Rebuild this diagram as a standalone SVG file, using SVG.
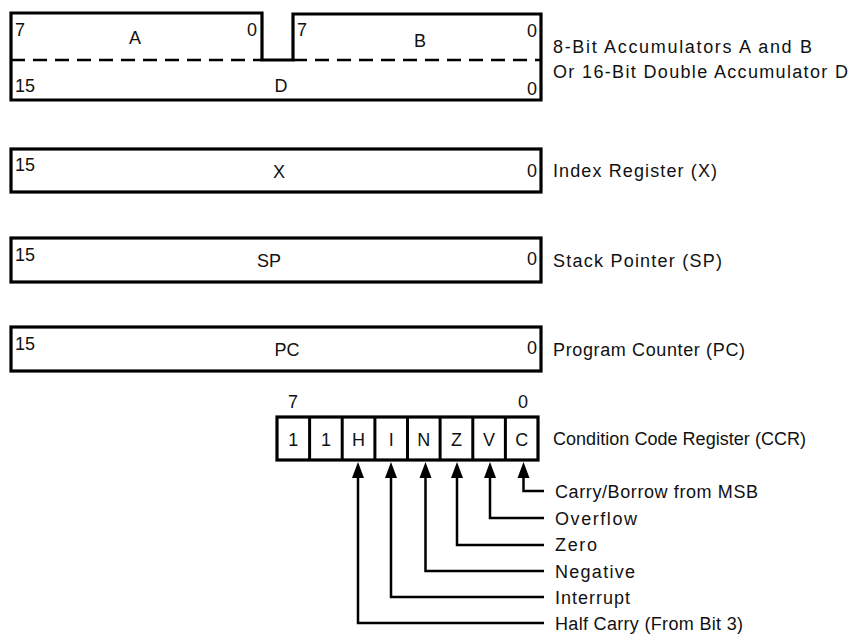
<svg xmlns="http://www.w3.org/2000/svg" width="852" height="636" viewBox="0 0 852 636">
<defs>
<style>
.reg{fill:none;stroke:#000;stroke-width:3.2;stroke-linejoin:miter}
.t{font-family:"Liberation Sans",Arial,Helvetica,sans-serif;font-size:18px;fill:#111}
.c{text-anchor:middle}
.e{text-anchor:end}
.lbl{font-family:"Liberation Sans",Arial,Helvetica,sans-serif;font-size:18px;fill:#111}
.conn{fill:none;stroke:#000;stroke-width:2.5}
</style>
</defs>
<rect width="852" height="636" fill="#fff"/>

<g id="accAB">
<path class="reg" d="M11,13 H262 V60 H293 V14 H541 V100 H11 Z"/>
<path d="M11,60 H262 M293,60 H541" stroke="#000" stroke-width="2.5" stroke-dasharray="14,8" fill="none"/>
<text class="t" x="15" y="36">7</text>
<text class="t c" x="135" y="44">A</text>
<text class="t e" x="257" y="36">0</text>
<text class="t" x="297" y="36">7</text>
<text class="t c" x="420" y="47">B</text>
<text class="t e" x="537" y="37">0</text>
<text class="t" x="15" y="92">15</text>
<text class="t c" x="281" y="92">D</text>
<text class="t e" x="537" y="95">0</text>
<text class="lbl" x="553" y="53" textLength="259" lengthAdjust="spacing">8-Bit Accumulators A and B</text>
<text class="lbl" x="553" y="78" textLength="295" lengthAdjust="spacing">Or 16-Bit Double Accumulator D</text>
</g>

<g id="regX">
<rect class="reg" x="11" y="149" width="530" height="43"/>
<text class="t" x="15" y="171">15</text>
<text class="t c" x="279" y="178">X</text>
<text class="t e" x="537" y="177">0</text>
<text class="lbl" x="553" y="177" textLength="164" lengthAdjust="spacing">Index Register (X)</text>
</g>

<g id="regSP">
<rect class="reg" x="11" y="238" width="530" height="44"/>
<text class="t" x="15" y="261">15</text>
<text class="t c" x="269" y="267">SP</text>
<text class="t e" x="537" y="265">0</text>
<text class="lbl" x="553" y="267" textLength="169" lengthAdjust="spacing">Stack Pointer (SP)</text>
</g>

<g id="regPC">
<rect class="reg" x="11" y="327" width="530" height="44"/>
<text class="t" x="15" y="350">15</text>
<text class="t c" x="287" y="356">PC</text>
<text class="t e" x="537" y="354">0</text>
<text class="lbl" x="553" y="356" textLength="192" lengthAdjust="spacing">Program Counter (PC)</text>
</g>

<g id="ccr">
<rect class="reg" x="277" y="417" width="261" height="43"/>
<path d="M309.6,417 V460 M342.2,417 V460 M374.9,417 V460 M407.5,417 V460 M440.1,417 V460 M472.8,417 V460 M505.4,417 V460" stroke="#000" stroke-width="3" fill="none"/>
<text class="t c" x="293" y="408">7</text>
<text class="t c" x="523" y="408">0</text>
<text class="t c" x="293.3" y="446">1</text>
<text class="t c" x="325.9" y="446">1</text>
<text class="t c" x="358.5" y="446">H</text>
<text class="t c" x="391.2" y="446">I</text>
<text class="t c" x="423.8" y="446">N</text>
<text class="t c" x="456.5" y="446">Z</text>
<text class="t c" x="489.1" y="446">V</text>
<text class="t c" x="521.7" y="446">C</text>
<text class="lbl" x="553" y="445" textLength="253" lengthAdjust="spacing">Condition Code Register (CCR)</text>
</g>

<g id="flags">
<text class="lbl" x="555" y="498" textLength="203" lengthAdjust="spacing">Carry/Borrow from MSB</text>
<text class="lbl" x="555" y="525" textLength="82" lengthAdjust="spacing">Overflow</text>
<text class="lbl" x="555" y="551" textLength="42" lengthAdjust="spacing">Zero</text>
<text class="lbl" x="555" y="578" textLength="80" lengthAdjust="spacing">Negative</text>
<text class="lbl" x="555" y="604" textLength="75" lengthAdjust="spacing">Interrupt</text>
<text class="lbl" x="555" y="630" textLength="188" lengthAdjust="spacing">Half Carry (From Bit 3)</text>
</g>

<g id="connectors">
<path class="conn" d="M544,491 H523.5 V475"/>
<path class="conn" d="M544,518 H490 V475"/>
<path class="conn" d="M544,545 H457 V475"/>
<path class="conn" d="M544,571 H425.5 V475"/>
<path class="conn" d="M544,597 H391 V475"/>
<path class="conn" d="M544,623 H358 V475"/>
<g fill="#000">
<path d="M523.5,462 L517.5,478 L529.5,478 Z"/>
<path d="M490,462 L484,478 L496,478 Z"/>
<path d="M457,462 L451,478 L463,478 Z"/>
<path d="M425.5,462 L419.5,478 L431.5,478 Z"/>
<path d="M391,462 L385,478 L397,478 Z"/>
<path d="M358,462 L352,478 L364,478 Z"/>
</g>
</g>
</svg>
